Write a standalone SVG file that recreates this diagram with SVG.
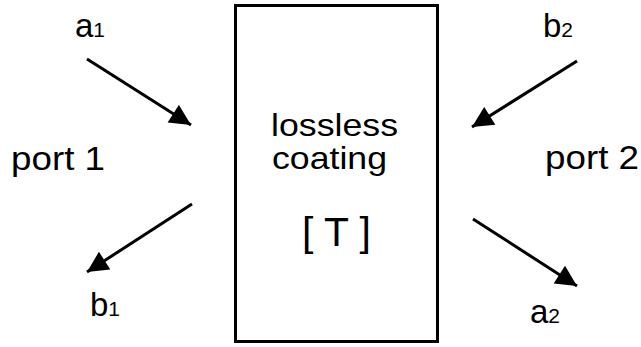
<svg xmlns="http://www.w3.org/2000/svg" width="641" height="347" viewBox="0 0 641 347">
<style>
text{font-family:"Liberation Sans",Arial,sans-serif;fill:#000}
.lbl{font-size:33px}
.sub{font-size:21px}
.big{font-size:32px}
.conn line{stroke:#000;stroke-width:3;fill:none}
</style>
<defs>
<marker id="ah" viewBox="0 0 10 10" refX="10" refY="5" markerWidth="7.5" markerHeight="7" markerUnits="strokeWidth" orient="auto">
<path d="M0,0 L10,5 L0,10 z" fill="#000"/>
</marker>
</defs>
<rect width="641" height="347" fill="#fff"/>
<g id="coating">
<rect x="235.5" y="5.5" width="202" height="336" fill="none" stroke="#000" stroke-width="3"/>
<text class="big" x="271" y="136" textLength="127" lengthAdjust="spacingAndGlyphs">lossless</text>
<text class="big" x="272" y="169" textLength="115" lengthAdjust="spacingAndGlyphs">coating</text>
<text x="302" y="246" font-size="40" textLength="69" lengthAdjust="spacingAndGlyphs">[ T ]</text>
</g>
<g id="port1">
<text class="lbl" x="11" y="170" textLength="94" lengthAdjust="spacingAndGlyphs">port 1</text>
</g>
<g id="port2">
<text class="lbl" x="545" y="169" textLength="94" lengthAdjust="spacingAndGlyphs">port 2</text>
</g>
<g id="a1"><text x="75" y="37"><tspan class="lbl">a</tspan><tspan class="sub">1</tspan></text></g>
<g id="b1"><text x="90" y="316"><tspan class="lbl">b</tspan><tspan class="sub">1</tspan></text></g>
<g id="b2"><text x="543" y="37"><tspan class="lbl">b</tspan><tspan class="sub">2</tspan></text></g>
<g id="a2"><text x="530" y="323"><tspan class="lbl">a</tspan><tspan class="sub">2</tspan></text></g>
<g id="connectors" class="conn">
<line x1="87" y1="59" x2="191" y2="125" marker-end="url(#ah)"/>
<line x1="192" y1="204" x2="87" y2="272" marker-end="url(#ah)"/>
<line x1="577" y1="61" x2="472" y2="127" marker-end="url(#ah)"/>
<line x1="473" y1="219" x2="577" y2="286" marker-end="url(#ah)"/>
</g>
</svg>
